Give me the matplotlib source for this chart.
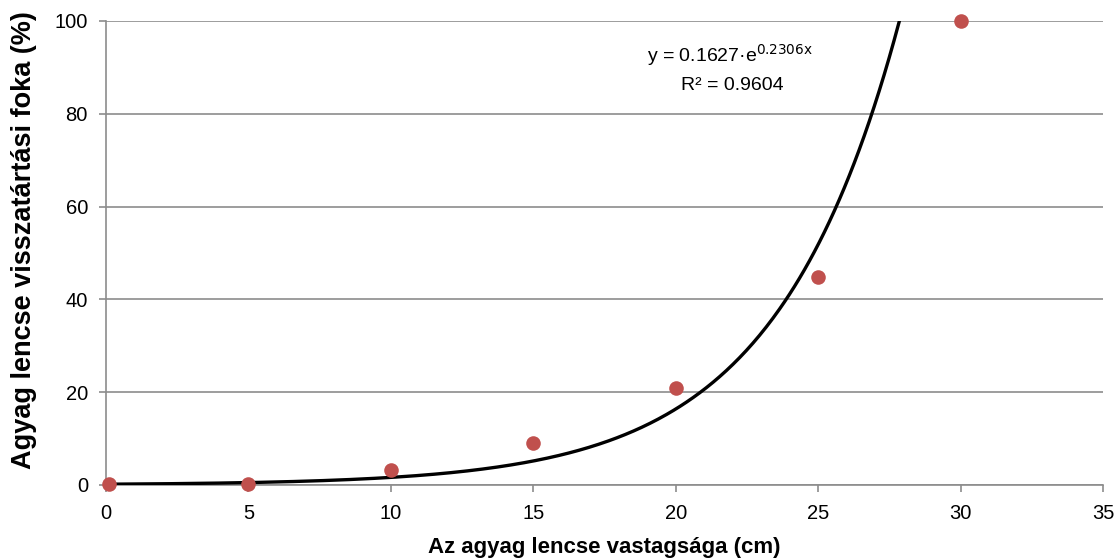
import numpy as np
import matplotlib
matplotlib.use("Agg")
import matplotlib.pyplot as plt

plt.rcParams['font.family'] = ['Liberation Sans', 'DejaVu Sans']

thickness_cm = [0.1, 5, 10, 15, 20, 25, 30]
retention_pct = [0.2, 0.3, 3.2, 9.0, 21.0, 44.8, 100.0]
trend_a = 0.1627
trend_b = 0.2306
r_squared = 0.9604

fig = plt.figure(figsize=(11.18, 5.6), dpi=100)
ax = fig.add_axes([0.0948, 0.134, 0.892, 0.8285])

xs = np.linspace(thickness_cm[0], 35, 600)
ax.plot(xs, trend_a * np.exp(trend_b * xs), color='black', lw=2.4, zorder=3)
ax.scatter(thickness_cm, retention_pct, s=110, color='#C0504D', zorder=4, clip_on=False, linewidths=0)

ax.set_xlim(0, 35)
ax.set_ylim(0, 100)
ax.set_xticks(range(0, 36, 5))
ax.set_yticks(range(0, 101, 20))
ax.yaxis.grid(True, color='#8c8c8c', lw=1.2)
ax.set_axisbelow(True)
for s in ['top', 'right']:
    ax.spines[s].set_visible(False)
for s in ['left', 'bottom']:
    ax.spines[s].set_color('#8c8c8c')
    ax.spines[s].set_linewidth(1.2)
ax.tick_params(axis='both', colors='#8c8c8c', labelcolor='black', labelsize=14.5, length=5, width=1.2)
ax.tick_params(axis='y', pad=8)
ax.tick_params(axis='x', pad=9)

ax.set_xlabel('Az agyag lencse vastagsága (cm)', fontsize=16, fontweight='bold', labelpad=10)
ax.set_ylabel('Agyag lencse visszatártási foka (%)', fontsize=19.5, fontweight='bold')
ax.yaxis.set_label_coords(-0.069, 0.528)

ax.text(0.626, 0.927, 'y = %s·e$^{\\mathrm{%sx}}$' % (trend_a, trend_b), transform=ax.transAxes,
        fontsize=14, ha='center', va='center')
ax.text(0.628, 0.862, 'R² = %s' % r_squared, transform=ax.transAxes, fontsize=14, ha='center', va='center')

fig.savefig('out.png', dpi=100)
